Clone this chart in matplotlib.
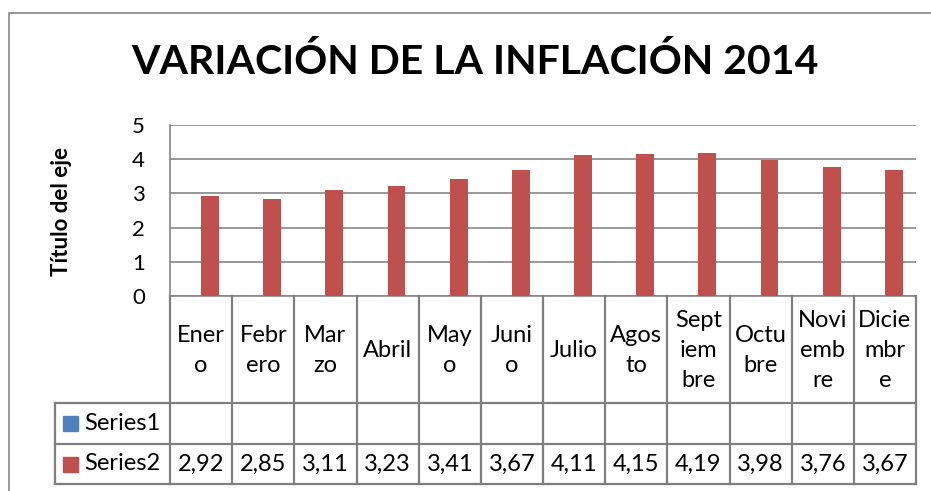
import matplotlib
matplotlib.use("Agg")
import matplotlib.pyplot as plt
from matplotlib.patches import Rectangle

plt.rcParams['font.family'] = ['Lato', 'DejaVu Sans']

months = ["Enero", "Febrero", "Marzo", "Abril", "Mayo", "Junio", "Julio",
          "Agosto", "Septiembre", "Octubre", "Noviembre", "Diciembre"]
month_labels = ["Ener\no", "Febr\nero", "Mar\nzo", "Abril", "May\no", "Juni\no",
                "Julio", "Agos\nto", "Sept\niem\nbre", "Octu\nbre", "Novi\nemb\nre",
                "Dicie\nmbr\ne"]
series1 = [None] * 12
series2 = [2.92, 2.85, 3.11, 3.23, 3.41, 3.67, 4.11, 4.15, 4.19, 3.98, 3.76, 3.67]
series2_text = ["2,92", "2,85", "3,11", "3,23", "3,41", "3,67", "4,11", "4,15",
                "4,19", "3,98", "3,76", "3,67"]
series_names = ["Series1", "Series2"]
series_colors = ["#4F81BD", "#C0504D"]
yticks = [0, 1, 2, 3, 4, 5]

W, H = 931, 491
fig = plt.figure(figsize=(W / 100, H / 100), dpi=100)
GRAY = "#868686"
TGRAY = "#7f7f7f"

def fx(px):
    return px / W

def fy(py):
    return 1 - py / H

# outer chart border
fig.patches.append(Rectangle((fx(9), fy(600)), fx(1000), fy(13) - fy(600),
                             transform=fig.transFigure, fill=False,
                             edgecolor=GRAY, lw=1.2))

L, R, T, B = 170, 916, 125, 296
ax = fig.add_axes([fx(L), fy(B), fx(R - L), fy(T) - fy(B)])
n = len(months)
x = list(range(n))
bw = 1 / 3.5
ax.bar([i + bw / 2 for i in x], series2, width=bw, color=series_colors[1], zorder=3)
ax.set_xlim(-0.5, n - 0.5)
ax.set_ylim(0, 5)
ax.set_yticks(yticks)
ax.set_yticklabels([str(v) for v in yticks], fontsize=16)
ax.set_xticks([])
ax.yaxis.grid(True, color=GRAY, lw=1.2, zorder=0)
ax.tick_params(axis='y', length=0, pad=18)
for s in ["top", "right"]:
    ax.spines[s].set_visible(False)
for s in ["left", "bottom"]:
    ax.spines[s].set_color(GRAY)
    ax.spines[s].set_linewidth(1.2)
fig.text(fx(62), fy(211), "Título del eje", fontsize=16, fontweight="bold",
         rotation=90, ha="center", va="center")

fig.text(fx(475), fy(62), "VARIACIÓN DE LA INFLACIÓN 2014", fontsize=29.5,
         fontweight="bold", ha="center", va="center")

# data table
TB = 484
tax = fig.add_axes([fx(L), fy(TB), fx(R - L), fy(B) - fy(TB)])
tax.set_xlim(-0.5, n - 0.5)
tax.set_ylim(TB - B, 0)
tax.axis("off")
unit = (R - L) / n
legL = -0.5 - (L - 55) / unit
r1, r2, r3 = 403 - B, 444 - B, TB - B
lk = dict(color=TGRAY, lw=1.6, clip_on=False, solid_capstyle="projecting")
for i in range(n + 1):
    tax.plot([i - 0.5, i - 0.5], [0, r3], **lk)
for yy in [r1, r2, r3]:
    tax.plot([legL, n - 0.5], [yy, yy], **lk)
tax.plot([legL, legL], [r1, r3], **lk)

FS = 17
for i, lab in enumerate(month_labels):
    tax.text(i, r1 / 2 + 1, lab, ha="center", va="center", fontsize=FS,
             linespacing=1.55, clip_on=False)
for k, (name, col) in enumerate(zip(series_names, series_colors)):
    yc = (r1 + r2) / 2 if k == 0 else (r2 + r3) / 2
    sq = 15 / unit
    tax.add_patch(Rectangle((legL + 8 / unit, yc - 7.5), sq, 15, color=col,
                            clip_on=False))
    tax.text(legL + 29 / unit, yc, name, ha="left", va="center", fontsize=FS,
             clip_on=False)
for i, t in enumerate(series2_text):
    tax.text(i, (r2 + r3) / 2, t, ha="center", va="center", fontsize=FS,
             clip_on=False)

fig.savefig("out.png", dpi=100)
